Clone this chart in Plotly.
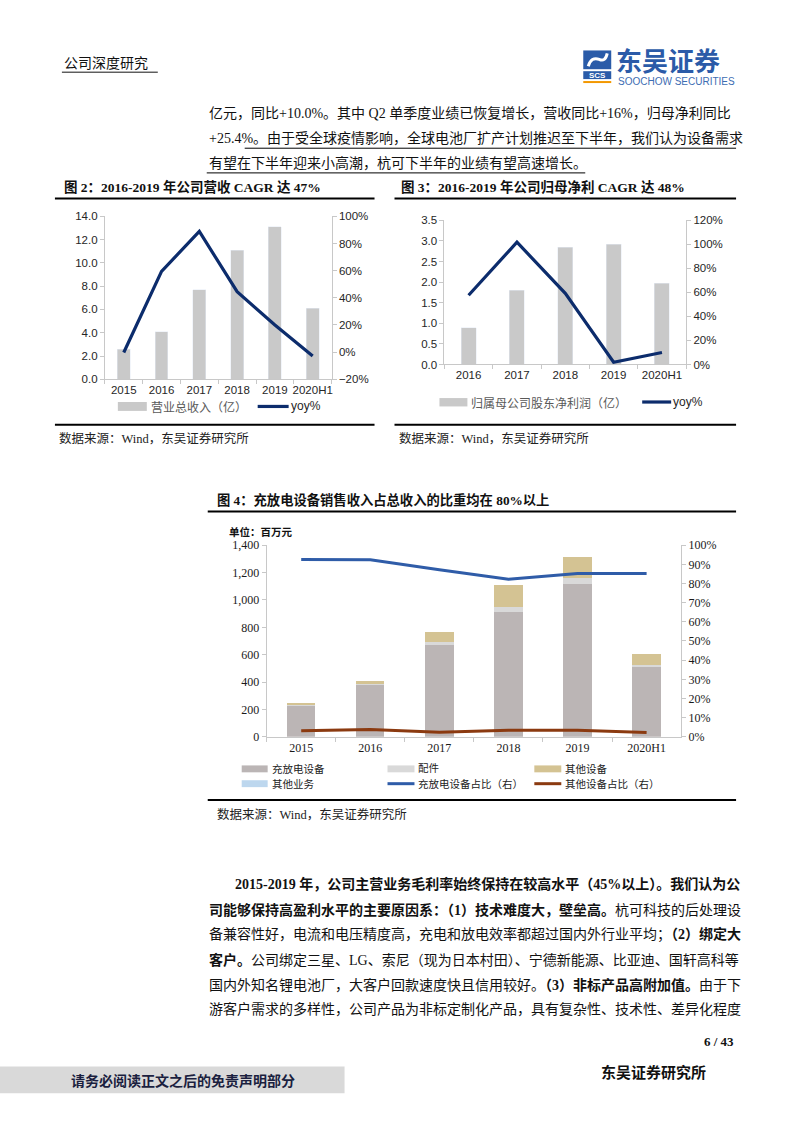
import plotly.graph_objects as go

W, H = 793, 1122
def X(px): return px / W
def Y(py): return 1 - py / H

SERIF = "Liberation Serif, Noto Sans CJK SC"
SANS = "Liberation Sans, Noto Sans CJK SC"
CJK = "Noto Sans CJK SC"

# ---------------- data ----------------
years2 = ["2015", "2016", "2017", "2018", "2019", "2020H1"]
revenue = [2.6, 4.1, 7.7, 11.1, 13.1, 6.1]
revenue_yoy = [-0.003, 0.595, 0.889, 0.445, 0.20, -0.028]

years3 = ["2016", "2017", "2018", "2019", "2020H1"]
net_profit = [0.89, 1.80, 2.85, 2.92, 1.97]
profit_yoy = [0.576, 1.018, 0.592, 0.019, 0.10]

years4 = ["2015", "2016", "2017", "2018", "2019", "2020H1"]
charge_equip = [230, 377, 673, 911, 1118, 515]
parts = [6, 8, 17, 37, 42, 7]
other_equip = [14, 19, 78, 158, 151, 82]
other_biz = [0, 0, 0, 0, 0, 0]
charge_ratio = [0.926, 0.924, 0.872, 0.822, 0.852, 0.852]
other_ratio = [0.031, 0.038, 0.024, 0.034, 0.034, 0.022]

NAVY = "#0c2c6c"
BARGRAY = "#c9c9c9"
AXC = "#c8c8c8"

fig = go.Figure()

# chart 2
fig.add_trace(go.Bar(x=years2, y=revenue, marker_color=BARGRAY, width=0.34, xaxis="x", yaxis="y",
                     showlegend=False, hoverinfo="skip"))
fig.add_trace(go.Scatter(x=years2, y=revenue_yoy, mode="lines", line=dict(color=NAVY, width=3.2),
                         xaxis="x", yaxis="y2", showlegend=False, hoverinfo="skip"))
# chart 3
fig.add_trace(go.Bar(x=years3, y=net_profit, marker_color=BARGRAY, width=0.31, xaxis="x3", yaxis="y3",
                     showlegend=False, hoverinfo="skip"))
fig.add_trace(go.Scatter(x=years3, y=profit_yoy, mode="lines", line=dict(color=NAVY, width=3.2),
                         xaxis="x3", yaxis="y4", showlegend=False, hoverinfo="skip"))
# chart 4
for vals, col in [(charge_equip, "#bbb5b5"), (parts, "#d9d9d9"), (other_equip, "#d4c393"), (other_biz, "#bdd7ee")]:
    fig.add_trace(go.Bar(x=years4, y=vals, marker_color=col, marker_line_width=0, width=0.41,
                         xaxis="x5", yaxis="y5", showlegend=False, hoverinfo="skip"))
fig.add_trace(go.Scatter(x=years4, y=charge_ratio, mode="lines", line=dict(color="#2f5ca8", width=3),
                         xaxis="x5", yaxis="y6", showlegend=False, hoverinfo="skip"))
fig.add_trace(go.Scatter(x=years4, y=other_ratio, mode="lines", line=dict(color="#8b3a10", width=3),
                         xaxis="x5", yaxis="y6", showlegend=False, hoverinfo="skip"))

tf_sans = dict(family=SANS, size=11.5, color="#262626")
tf_serif = dict(family=SERIF, size=12, color="#1a1a1a")

def xax(dom, anchor, font):
    return dict(domain=dom, anchor=anchor, type="category", showline=True, linecolor=AXC,
                linewidth=1, ticks="outside", tickson="boundaries", ticklen=4, tickcolor=AXC,
                tickfont=font, tickangle=0, showgrid=False, zeroline=False, fixedrange=True)

def yax(dom, anchor, rng, dtick, fmt, font, side="left", overlaying=None):
    d = dict(domain=dom, anchor=anchor, range=rng, dtick=dtick, tickformat=fmt, showline=True,
             linecolor=AXC, linewidth=1, ticks="outside", ticklen=4, tickcolor=AXC,
             tickfont=font, showgrid=False, zeroline=False, side=side, fixedrange=True)
    if overlaying:
        d["overlaying"] = overlaying
    return d

fig.update_layout(
    width=W, height=H, margin=dict(l=0, r=0, t=0, b=0),
    paper_bgcolor="white", plot_bgcolor="rgba(0,0,0,0)",
    barmode="stack", showlegend=False,
    xaxis=xax([X(105), X(332)], "y", tf_sans),
    yaxis=yax([Y(377), Y(212)], "x", [0, 14], 2, ".1f", tf_sans),
    yaxis2=yax([Y(377), Y(212)], "x", [-0.2, 1.0], 0.2, ".0%", tf_sans, "right", "y"),
    xaxis3=xax([X(445), X(687)], "y3", tf_sans),
    yaxis3=yax([Y(362), Y(216)], "x3", [0, 3.5], 0.5, ".1f", tf_sans),
    yaxis4=yax([Y(362), Y(216)], "x3", [0, 1.2], 0.2, ".0%", tf_sans, "right", "y3"),
    xaxis5=xax([X(267), X(682)], "y5", tf_serif),
    yaxis5=yax([Y(739), Y(545)], "x5", [0, 1400], 200, ",", tf_serif),
    yaxis6=yax([Y(739), Y(545)], "x5", [0, 1.0], 0.1, ".0%", tf_serif, "right", "y5"),
)

anns = []
shapes = []

def T(text, x, y, size, color="#111111", family=SERIF, xanchor="left", yanchor="middle"):
    anns.append(dict(text=text, x=X(x), y=Y(y), xref="paper", yref="paper", showarrow=False,
                     xanchor=xanchor, yanchor=yanchor, font=dict(family=family, size=size, color=color)))

def L(x0, y0, x1, y1, color="black", width=1):
    shapes.append(dict(type="line", xref="paper", yref="paper", x0=X(x0), y0=Y(y0), x1=X(x1), y1=Y(y1),
                       line=dict(color=color, width=width)))

def R(x0, y0, x1, y1, color):
    shapes.append(dict(type="rect", xref="paper", yref="paper", x0=X(x0), y0=Y(y0), x1=X(x1), y1=Y(y1),
                       fillcolor=color, line=dict(width=0)))

# header
T("公司深度研究", 62, 56, 14, "#111111", CJK)
L(62, 66, 158, 66, "#111111", 1)
# logo
R(584, 44, 612, 63, "#2a5ba8")
shapes.append(dict(type="path", xref="paper", yref="paper",
                   path=f"M {X(589)},{Y(60)} Q {X(592)},{Y(50)} {X(600)},{Y(53)} Q {X(606)},{Y(56)} {X(608)},{Y(47)}",
                   line=dict(color="white", width=3)))
R(584, 65, 612, 73, "#2a5ba8")
T("<b>SCS</b>", 598, 69, 8, "white", SANS, "center")
L(584, 76, 612, 76, "#f39800", 2)
T("<b>东吴证券</b>", 615, 53, 26, "#2b5ba8", CJK)
T("SOOCHOW SECURITIES", 617, 75.5, 10, "#3d6db3", SANS)

# top paragraph
T("亿元，同比+10.0%。其中 Q2 单季度业绩已恢复增长，营收同比+16%，归母净利同比", 207, 107, 14)
T("+25.4%。由于受全球疫情影响，全球电池厂扩产计划推迟至下半年，我们认为设备需求", 207, 133, 14)
T("有望在下半年迎来小高潮，杭可下半年的业绩有望高速增长。", 207, 158, 14)
L(245, 143, 737, 143, "black", 1)
L(207, 168, 586, 168, "black", 1)

# chart titles
T("<b>图 2：2016-2019 年公司营收 CAGR 达 47%</b>", 62, 182, 13.5)
T("<b>图 3：2016-2019 年公司归母净利 CAGR 达 48%</b>", 400, 182, 13.5)
L(55, 194, 375, 194, "black", 2)
L(395, 194, 737, 194, "black", 2)
L(55, 423, 375, 423, "black", 2)
L(395, 423, 737, 423, "black", 2)
T("数据来源：Wind，东吴证券研究所", 57, 437, 12.5, "#222222")
T("数据来源：Wind，东吴证券研究所", 398, 437, 12.5, "#222222")

# chart 2 legend
R(118, 400, 147, 409, BARGRAY)
T("营业总收入（亿）", 149, 404.5, 12, "#595959", CJK)
L(258, 404.5, 289, 404.5, NAVY, 3.2)
T("yoy%", 289, 404.5, 12, "#262626", SANS)
# chart 3 legend
R(440, 396, 468, 404.5, BARGRAY)
T("归属母公司股东净利润（亿）", 470, 400, 12, "#595959", CJK)
L(643, 400, 672, 400, NAVY, 3.2)
T("yoy%", 672, 400, 12, "#262626", SANS)

# chart 4
T("<b>图 4：充放电设备销售收入占总收入的比重均在 80%以上</b>", 215, 499, 13.3)
L(208, 511, 737, 511, "black", 2)
T("<b>单位：百万元</b>", 227, 532, 10.5, "#111111")
R(242, 768, 268, 775, "#bbb5b5")
T("充放电设备", 270, 771.5, 10.5, "#222222")
R(388, 768, 415, 775, "#d9d9d9")
T("配件", 417, 771.5, 10.5, "#222222")
R(535, 768, 562, 775, "#d4c393")
T("其他设备", 564, 771.5, 10.5, "#222222")
R(242, 783, 268, 790, "#bdd7ee")
T("其他业务", 270, 786.5, 10.5, "#222222")
L(388, 786.5, 415, 786.5, "#2f5ca8", 3)
T("充放电设备占比（右）", 417, 786.5, 10.5, "#222222")
L(535, 786.5, 562, 786.5, "#8b3a10", 3)
T("其他设备占比（右）", 564, 786.5, 10.5, "#222222")
L(208, 803, 737, 803, "black", 2)
T("数据来源：Wind，东吴证券研究所", 215, 818, 12.5, "#222222")

# bottom paragraph
T("<b>2015-2019 年，公司主营业务毛利率始终保持在较高水平（45%以上）。我们认为公</b>", 233, 888, 14)
T("<b>司能够保持高盈利水平的主要原因系：（1）技术难度大，壁垒高。</b>杭可科技的后处理设", 207, 914, 14)
T("备兼容性好，电流和电压精度高，充电和放电效率都超过国内外行业平均；<b>（2）绑定大</b>", 207, 939, 14)
T("<b>客户。</b>公司绑定三星、LG、索尼（现为日本村田）、宁德新能源、比亚迪、国轩高科等", 207, 965, 14)
T("国内外知名锂电池厂，大客户回款速度快且信用较好。<b>（3）非标产品高附加值。</b>由于下", 207, 990, 14)
T("游客户需求的多样性，公司产品为非标定制化产品，具有复杂性、技术性、差异化程度", 207, 1015, 14)

# footer
T("<b>6 / 43</b>", 737, 1048, 13, "#111111", SERIF, "right")
R(0, 1073, 345, 1100, "#d9d9d9")
T("<b>请务必阅读正文之后的免责声明部分</b>", 183, 1087, 14, "#1b1f3f", CJK, "center")
T("<b>东吴证券研究所</b>", 600, 1078, 15, "#111111", CJK)

fig.update_layout(annotations=anns, shapes=shapes)

fig.write_html("out.html", config={"displayModeBar": False},
               post_script="document.body.style.margin='0';document.body.style.overflow='hidden';")
